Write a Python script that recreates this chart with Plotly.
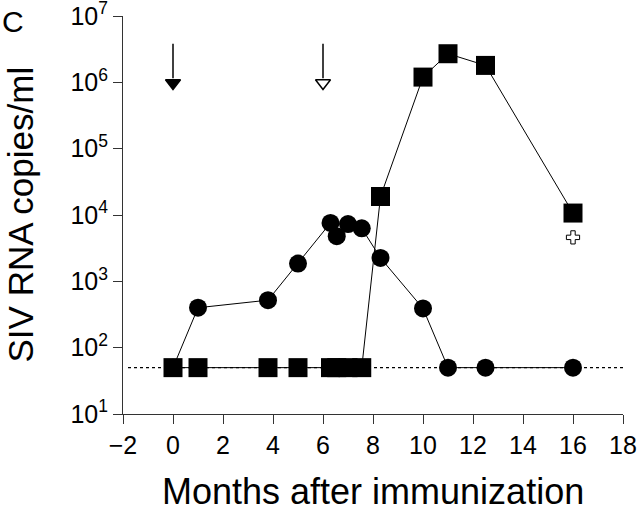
import plotly.graph_objects as go

# sampling times (months after immunization) and viral loads
circle_months = [0, 1, 3.8, 5, 6.3, 6.55, 7.0, 7.55, 8.3, 10.0, 11.0, 12.5, 16.0]
circle_copies = [50, 400, 520, 1850, 7600, 4800, 7300, 6300, 2250, 390, 50, 50, 50]

square_months = [0, 1, 3.8, 5, 6.3, 6.55, 7.0, 7.55, 8.3, 10.0, 11.0, 12.5, 16.0]
square_copies = [50, 50, 50, 50, 50, 50, 50, 50, 19000, 1.2e6, 2.7e6, 1.8e6, 10700]

detection_limit = 50
limit_span = [-1.8, 18]

immunization_months = [0, 6]
immunization_filled = [True, False]

death_month = 16
death_marker_y = 4600

y_tickvals = [10, 100, 1e3, 1e4, 1e5, 1e6, 1e7]
y_ticktext = ["10<sup>1</sup>", "10<sup>2</sup>", "10<sup>3</sup>", "10<sup>4</sup>",
              "10<sup>5</sup>", "10<sup>6</sup>", "10<sup>7</sup>"]
x_tickvals = list(range(-2, 19, 2))

FONT = "Liberation Sans, Arial, sans-serif"

fig = go.Figure()

# detection limit (dotted)
fig.add_trace(go.Scatter(
    x=limit_span, y=[detection_limit] * 2, mode="lines",
    line=dict(color="black", width=1.2, dash="dot"), showlegend=False,
))

fig.add_trace(go.Scatter(
    x=circle_months, y=circle_copies, mode="lines+markers",
    line=dict(color="black", width=1),
    marker=dict(symbol="circle", size=18, color="black"),
    showlegend=False,
))
fig.add_trace(go.Scatter(
    x=square_months, y=square_copies, mode="lines+markers",
    line=dict(color="black", width=1),
    marker=dict(symbol="square", size=19, color="black"),
    showlegend=False,
))

# immunization arrows
for m, filled in zip(immunization_months, immunization_filled):
    fig.add_trace(go.Scatter(
        x=[m, m], y=[10 ** 6.58, 10 ** 6.06], mode="lines",
        line=dict(color="black", width=1.5), showlegend=False,
    ))
    fig.add_trace(go.Scatter(
        x=[m], y=[10 ** 5.99], mode="markers",
        marker=dict(symbol="triangle-down" if filled else "triangle-down-open",
                    size=13, color="black", line=dict(color="black", width=1.5)),
        showlegend=False,
    ))

# death marker (outlined cross)
fig.add_trace(go.Scatter(
    x=[death_month], y=[death_marker_y], mode="markers",
    marker=dict(symbol="cross-open", size=11, color="black", line=dict(color="black", width=1)),
    showlegend=False,
))

fig.add_annotation(x=-0.22, y=1.032, xref="paper", yref="paper", text="C",
                   showarrow=False, xanchor="center", yanchor="top",
                   font=dict(family=FONT, size=30, color="black"))
fig.add_annotation(x=-0.207, y=0.5, xref="paper", yref="paper",
                   text="SIV RNA copies/ml", textangle=-90, showarrow=False,
                   xanchor="center", yanchor="middle",
                   font=dict(family=FONT, size=35, color="black"))
fig.add_annotation(x=0.5, y=-0.1935, xref="paper", yref="paper",
                   text="Months after immunization", showarrow=False,
                   xanchor="center", yanchor="middle",
                   font=dict(family=FONT, size=36, color="black"))

axis_common = dict(
    showgrid=False, zeroline=False, showline=True, linecolor="#333", linewidth=1,
    ticks="outside", ticklen=9, tickwidth=1, tickcolor="#333",
    tickfont=dict(family=FONT, size=25, color="black"),
    ticklabeloverflow="allow", automargin=False,
)

fig.update_xaxes(range=[-2, 18], tickvals=x_tickvals, **axis_common)
fig.update_yaxes(type="log", range=[1, 7.0001], tickvals=y_tickvals, ticktext=y_ticktext,
                 **axis_common)

fig.update_layout(
    width=640, height=510,
    margin=dict(l=123, r=17, t=16, b=96),
    plot_bgcolor="white", paper_bgcolor="white",
    font=dict(family=FONT, color="black"),
)

fig.write_html("out.html", config={"displayModeBar": False},
               post_script="document.body.style.margin='0';")
